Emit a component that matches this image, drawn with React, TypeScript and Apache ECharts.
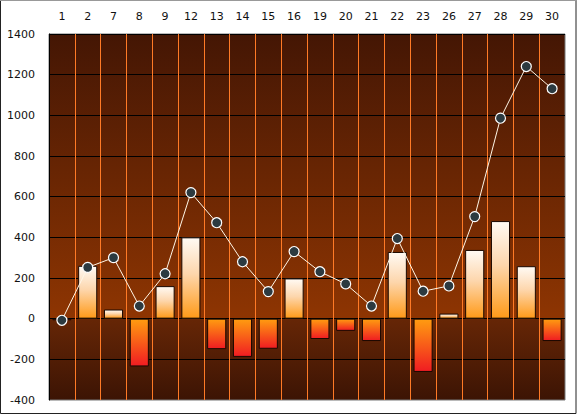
import React, { useEffect, useRef } from "react";
import * as echarts from "echarts";

const categories = ["1", "2", "7", "8", "9", "12", "13", "14", "15", "16", "19", "20", "21", "22", "23", "26", "27", "28", "29", "30"];
const barValues = [-8, 260, 45, -235, 160, 400, -150, -188, -148, 198, -100, -60, -110, 328, -262, 25, 338, 480, 258, -110];
const lineValues = [-8, 252, 300, 62, 221, 620, 472, 280, 133, 330, 231, 171, 62, 394, 135, 161, 502, 986, 1240, 1131];
const yMin = -400;
const yMax = 1400;
const yStep = 200;

const posGrad = new echarts.graphic.LinearGradient(0, 0, 0, 1, [
  { offset: 0, color: "#fffaf4" },
  { offset: 0.45, color: "#fdd6ac" },
  { offset: 1, color: "#ff9a18" },
]);
const negGrad = new echarts.graphic.LinearGradient(0, 0, 0, 1, [
  { offset: 0, color: "#ff9c10" },
  { offset: 1, color: "#f01c22" },
]);

export default function App() {
  const ref = useRef<HTMLDivElement>(null);
  useEffect(() => {
    if (!ref.current) return;
    const chart = echarts.init(ref.current, undefined, { renderer: "svg" });
    const zeroFrac = (yMax - 0) / (yMax - yMin);
    chart.setOption({
      animation: false,
      backgroundColor: "#ffffff",
      textStyle: { fontFamily: "DejaVu Sans" },
      grid: {
        left: 49,
        top: 34,
        right: 12,
        bottom: 16,
        show: true,
        borderColor: "#777",
        borderWidth: 1,
        backgroundColor: new echarts.graphic.LinearGradient(0, 0, 0, 1, [
          { offset: 0, color: "#441604" },
          { offset: zeroFrac - 0.001, color: "#8e3502" },
          { offset: zeroFrac, color: "#662606" },
          { offset: 1, color: "#3c1404" },
        ]),
      },
      xAxis: {
        type: "category",
        position: "top",
        data: categories,
        boundaryGap: true,
        axisLine: { show: false },
        axisTick: { show: false },
        axisLabel: { color: "#111", fontSize: 11, margin: 12, fontFamily: "DejaVu Sans" },
        splitLine: { show: true, showMinLine: false, showMaxLine: false, lineStyle: { color: "#ff7a26", width: 1 } },
      },
      yAxis: {
        type: "value",
        min: yMin,
        max: yMax,
        interval: yStep,
        axisLine: { show: true, lineStyle: { color: "#000", width: 1 } },
        axisTick: { show: false },
        axisLabel: {
          color: "#111",
          fontSize: 11,
          margin: 14,
          fontFamily: "DejaVu Sans",
          formatter: (v: number) => String(v),
        },
        splitLine: { show: true, showMinLine: false, lineStyle: { color: "#000", width: 1 } },
      },
      series: [
        {
          type: "bar",
          barWidth: "74%",
          data: barValues.map((v) => ({
            value: v,
            itemStyle: { color: v >= 0 ? posGrad : negGrad, borderColor: "#1a0800", borderWidth: 1 },
          })),
          z: 2,
        },
        {
          type: "line",
          data: lineValues,
          symbol: "circle",
          symbolSize: 10,
          lineStyle: { color: "#fff6e6", width: 1 },
          itemStyle: { color: "#2c3a40", borderColor: "#ffffff", borderWidth: 1.2 },
          z: 3,
        },
      ],
      graphic: [
        {
          type: "rect",
          shape: { x: 0.5, y: 0.5, width: 575.5, height: 413 },
          style: { fill: "none", stroke: "#222", lineWidth: 1 },
          silent: true,
        },
        {
          type: "line",
          shape: { x1: 0, y1: 0.5, x2: 577, y2: 0.5 },
          style: { stroke: "#999", lineWidth: 1 },
          silent: true,
        },
      ],
    });
    return () => chart.dispose();
  }, []);
  return (
    <div
      ref={ref}
      style={{ position: "fixed", left: 0, top: 0, width: 577, height: 416, background: "#fff" }}
    />
  );
}
